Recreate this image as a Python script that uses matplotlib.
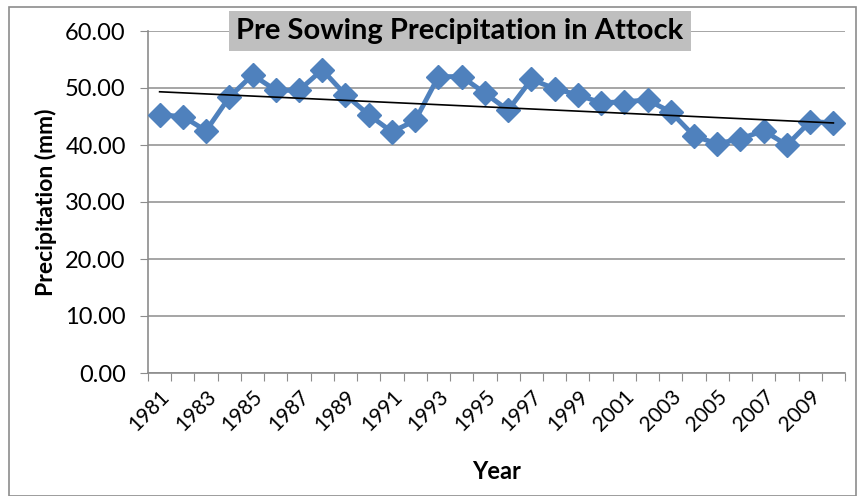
import numpy as np
import matplotlib
matplotlib.use('Agg')
import matplotlib.pyplot as plt
from matplotlib.patches import Rectangle

years = list(range(1981, 2011))
precip = [45.3, 45.0, 42.5, 48.4, 52.3, 49.6, 49.6, 53.2, 48.8, 45.3,
          42.3, 44.3, 52.0, 52.0, 49.1, 46.1, 51.5, 49.9, 48.8, 47.4,
          47.6, 47.9, 45.8, 41.6, 40.2, 41.1, 42.5, 40.0, 44.1, 43.9]
yticks = [0, 10, 20, 30, 40, 50, 60]
title = 'Pre Sowing Precipitation in Attock'

plt.rcParams['font.family'] = ['Lato', 'DejaVu Sans']

fig = plt.figure(figsize=(8.61, 4.96), dpi=100)
ax = fig.add_axes([148/861, 1 - 373/496, (845-148)/861, (373-31)/496])

x = np.arange(len(years))
ax.plot(x, precip, color='#4f81bd', lw=3.5, marker='D', ms=12, zorder=3)

# linear trend line
k, b = np.polyfit(x, precip, 1)
ax.plot(x, k*x + b, color='black', lw=1.2, zorder=4)

ax.set_xlim(-0.5, len(years) - 0.5)
ax.set_ylim(0, 60)
ax.set_yticks(yticks)
ax.set_yticklabels(['%.2f' % v for v in yticks], fontsize=17)
ax.yaxis.grid(True, color='#969696', lw=1.2)
ax.set_axisbelow(True)

ax.set_xticks(np.arange(-0.5, len(years), 1), minor=False)
ax.set_xticklabels([])
ax.set_xticks(x[::2], minor=True)
ax.set_xticklabels([str(y) for y in years[::2]], minor=True, rotation=45,
                   ha='right', va='top', rotation_mode='anchor', fontsize=15)
ax.tick_params(axis='x', which='minor', length=0, pad=10)
ax.tick_params(axis='x', which='major', length=6, color='#8c8c8c', direction='out')
ax.tick_params(axis='y', length=6, color='#8c8c8c', direction='out', pad=10)

for s in ['top', 'right']:
    ax.spines[s].set_visible(False)
for s in ['left', 'bottom']:
    ax.spines[s].set_color('#8c8c8c')
    ax.spines[s].set_linewidth(1.2)

ax.set_ylabel('Precipitation (mm)', fontsize=16.5, fontweight='bold', labelpad=6)
ax.set_xlabel('Year', fontsize=17, fontweight='bold', labelpad=18)

fig.text(460/861, 1 - 31/496, title, fontsize=21, fontweight='bold',
         ha='center', va='center',
         bbox=dict(boxstyle='square,pad=0.25', fc='#bfbfbf', ec='none'))

fig.patches.append(Rectangle((9/861, 0), (856-9)/861, 1 - 7/496,
                             transform=fig.transFigure, fill=False,
                             ec='#8c8c8c', lw=1.2))

fig.savefig('out.png', dpi=100)
